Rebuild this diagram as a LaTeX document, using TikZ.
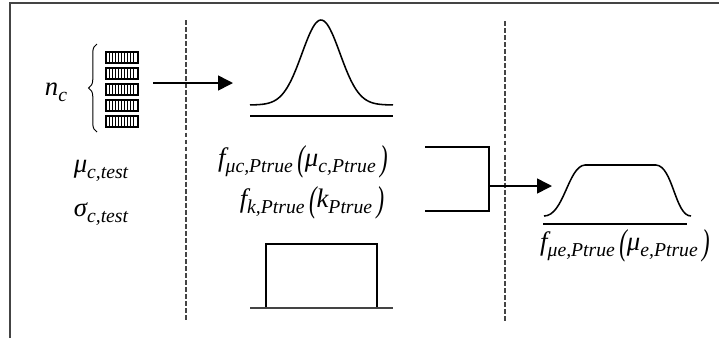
\documentclass[tikz,border=0pt]{standalone}
\usepackage{fontspec}
\setmainfont{Liberation Serif}
\usetikzlibrary{arrows.meta,decorations.pathreplacing}
\definecolor{framegray}{HTML}{444444}
\newcommand{\sbs}[1]{\raisebox{-0.55ex}{\fontsize{14}{16}\selectfont\itshape #1}}
\newcommand{\lpar}{\raisebox{-0.4ex}{\scalebox{0.85}[1.35]{(}}}
\newcommand{\rpar}{\raisebox{-0.4ex}{\scalebox{0.85}[1.35]{)}}}

\begin{document}
\begin{tikzpicture}[x=0.025cm,y=-0.025cm,
    lbl/.style={inner sep=0pt,anchor=base,font=\fontsize{19}{22}\selectfont\itshape},
    pdf/.style={line width=1.1pt},
    sep/.style={dash pattern=on 3.5pt off 1.5pt,line width=0.8pt,framegray},
    flow/.style={line width=1.1pt,-{Triangle[length=10.5pt,width=10.5pt]}}]
        \useasboundingbox (0,0) rectangle (719,338);
        \draw[line width=1.3pt,framegray] (10,338)--(10,3)--(719,3);
        \draw[sep] (186,20)--(186,321);
        \draw[sep] (505,21)--(505,322);
        % test specimens
        \node[lbl] (nc) at (56,95) {n\sbs{c}};
        \draw[line width=0.7pt,decorate,decoration={brace,amplitude=6pt,mirror}] (97,44)--(97,132);
        \foreach \i in {0,...,4} {
          \draw[line width=1.4pt] (106,52+16*\i) rectangle (138,63+16*\i);
          \foreach \j in {109.5,112.5,...,135}
            \draw[line width=0.4pt] (\j,52+16*\i)--(\j,63+16*\i);
        }
        \node[lbl] (mutest) at (101,172) {μ\sbs{c,test}};
        \node[lbl] (sigtest) at (101,216) {σ\sbs{c,test}};
        \coordinate (spec) at (153,83);
        \coordinate (gauss) at (233,83);
        \draw[flow] (spec)--(gauss);
        % prior of the mean
        \draw[pdf] plot[domain=250:393,samples=90] (\x,{105-85*exp(-((\x-321)/19)^2/2)});
        \draw[pdf] (250,116)--(393,116);
        \node[lbl] (fmu) at (303,166) {f\sbs{μc,Ptrue}\,\lpar μ\sbs{c,Ptrue}\,\rpar};
        \node[lbl] (fk) at (312,207) {f\sbs{k,Ptrue}\,\lpar k\sbs{Ptrue}\,\rpar};
        % uniform prior
        \draw[pdf] (266,308)--(266,244)--(377,244)--(377,308);
        \draw[pdf,framegray] (250,308)--(393,308);
        % combination
        \coordinate (top) at (425,147);
        \coordinate (bot) at (425,211);
        \coordinate (join) at (489,186);
        \coordinate (flat) at (552,186);
        \draw[pdf] (top)-|(join) |-(bot);
        \draw[flow] (join)--(flat);
        \draw[pdf] (544,216) .. controls (564,216) and (568,166) .. (585,165)
          --(656,165) .. controls (673,166) and (675,216) .. (691,216);
        \draw[pdf] (543,224)--(687,224);
        \node[lbl] (fmue) at (625,250) {f\sbs{μe,Ptrue}\,\lpar μ\sbs{e,Ptrue}\,\rpar};
      \end{tikzpicture}
\end{document}
